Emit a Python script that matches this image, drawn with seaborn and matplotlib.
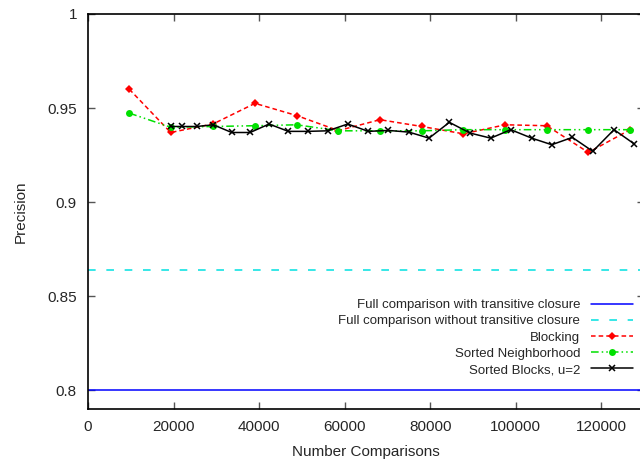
import matplotlib
matplotlib.use("Agg")
import matplotlib.pyplot as plt
import seaborn as sns
import pandas as pd
from matplotlib.ticker import FuncFormatter

# ---- data ----
full_with_closure = 0.800
full_without_closure = 0.864

blocking_x = [9660, 19330, 29300, 39050, 48800, 58550, 68260, 78060, 87780, 97530, 107270, 116990, 126760]
blocking_y = [0.960, 0.937, 0.9416, 0.9525, 0.946, 0.938, 0.9438, 0.9402, 0.9363, 0.9411, 0.9406, 0.9264, 0.9385]

sn_x = [9660, 19330, 29300, 39050, 48800, 58550, 68260, 78060, 87780, 97530, 107270, 116990, 126760]
sn_y = [0.9473, 0.9398, 0.9402, 0.9406, 0.9411, 0.9379, 0.9379, 0.9379, 0.9385, 0.9385, 0.9385, 0.9385, 0.9385]

sb_x = [19330, 21900, 25420, 29300, 33600, 37900, 42340, 46850, 51380, 56060, 60730,
        65550, 70230, 75060, 79740, 84490, 89330, 94160, 98840, 103750, 108430, 113250,
        118020, 122990, 127670]
sb_y = [0.9402, 0.9402, 0.9402, 0.9411, 0.9370, 0.9370, 0.9415, 0.9376, 0.9376, 0.9379, 0.9415,
        0.9376, 0.9381, 0.9372, 0.9340, 0.9424, 0.9367, 0.9340, 0.9385, 0.9340, 0.9305, 0.9344,
        0.9270, 0.9385, 0.9310]

x_ticks = [0, 20000, 40000, 60000, 80000, 100000, 120000]
y_ticks = [0.8, 0.85, 0.9, 0.95, 1.0]

labels = ["Full comparison with transitive closure",
          "Full comparison without transitive closure",
          "Blocking",
          "Sorted Neighborhood",
          "Sorted Blocks, u=2"]

# ---- style ----
sns.set_style("ticks")
plt.rcParams["font.family"] = ["Liberation Sans", "DejaVu Sans"]
plt.rcParams["font.size"] = 11

fig = plt.figure(figsize=(6.4, 4.61), dpi=100)
ax = fig.add_axes([88 / 640, 52 / 461, (644 - 88) / 640, (409 - 14) / 461])

ax.axhline(full_with_closure, color="#0000ff", lw=1.1, label=labels[0])
ax.axhline(full_without_closure, color="#00e0e0", lw=1.1, ls=(0, (5, 7)), label=labels[1])

df_b = pd.DataFrame({"x": blocking_x, "y": blocking_y})
df_s = pd.DataFrame({"x": sn_x, "y": sn_y})
df_k = pd.DataFrame({"x": sb_x, "y": sb_y})

sns.lineplot(data=df_b, x="x", y="y", ax=ax, color="#ff0000", lw=1.1,
             linestyle=(0, (3, 2)), marker="D", markersize=3.8, markeredgewidth=0,
             label=labels[2])
sns.lineplot(data=df_s, x="x", y="y", ax=ax, color="#00e000", lw=1.1,
             linestyle=(0, (5, 2, 1, 2, 1, 2)), marker="o", markersize=5, markeredgewidth=0,
             label=labels[3])
sns.lineplot(data=df_k, x="x", y="y", ax=ax, color="black", lw=1.1,
             marker="x", markersize=5, markeredgewidth=1.1, markeredgecolor="black",
             label=labels[4])

ax.set_xlim(0, 130000)
ax.set_ylim(0.79, 1.0)
ax.set_xticks(x_ticks)
ax.set_yticks(y_ticks)
ax.xaxis.set_major_formatter(FuncFormatter(lambda v, p: f"{int(v)}"))
ax.yaxis.set_major_formatter(FuncFormatter(lambda v, p: f"{v:g}"))
ax.tick_params(direction="in", length=5, width=1, color="#555555",
               top=True, right=True, labelsize=11, pad=8)
for s in ax.spines.values():
    s.set_color("black")
    s.set_linewidth(1.2)

ax.set_xlabel("Number Comparisons", fontsize=11, labelpad=8)
ax.set_ylabel("Precision", fontsize=11, labelpad=14)

leg = ax.legend(loc="lower right", bbox_to_anchor=(633 / 640, (461 - 376) / 461),
                bbox_transform=fig.transFigure, frameon=False, markerfirst=False,
                handlelength=3.2, handletextpad=0.8, labelspacing=0.3,
                borderpad=0, borderaxespad=0, fontsize=9.5)

fig.savefig("out.png", dpi=100)
